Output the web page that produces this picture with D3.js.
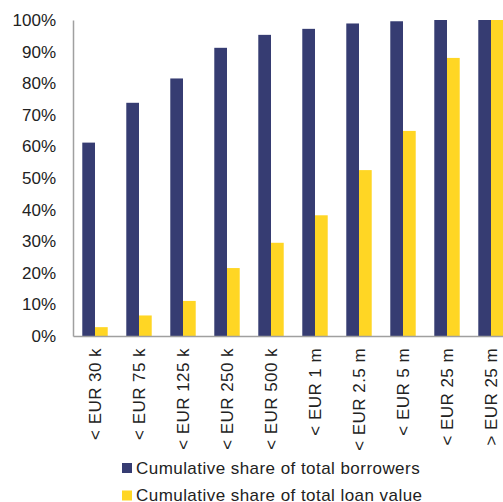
<!DOCTYPE html>
<html>
<head>
<meta charset="utf-8">
<script src="https://cdn.jsdelivr.net/npm/d3@7"></script>
<style>
    body { margin: 0; background: #fff; }
    svg { display: block; font-family: Arial, "Liberation Sans", sans-serif; }
</style>
</head>
<body>
<svg id="svg" width="503" height="502"></svg>
<script>
// loan size buckets
var categories = ["< EUR 30 k", "< EUR 75 k", "< EUR 125 k", "< EUR 250 k", "< EUR 500 k",
    "< EUR 1 m", "< EUR 2.5 m", "< EUR 5 m", "< EUR 25 m", "> EUR 25 m"];

// cumulative shares, in %
var borrowers = [61.2, 73.8, 81.5, 91.2, 95.3, 97.2, 98.9, 99.6, 100, 100];
var loanValue = [2.8, 6.5, 11.1, 21.5, 29.5, 38.2, 52.5, 64.9, 88.0, 100];

var seriesNames = ["Cumulative share of total borrowers", "Cumulative share of total loan value"];
var yTicks = [0, 10, 20, 30, 40, 50, 60, 70, 80, 90, 100];

var colors = ["#363c72", "#ffd624"];

var svg = d3.select("svg"),
    margin = {top: 20, left: 73},
    plotBottom = 336,
    plotRight = 513;

var x0 = d3.scaleBand()
    .domain(categories)
    .range([margin.left, plotRight])
    .padding(0);

var x1 = d3.scaleBand()
    .domain([0, 1])
    .range([0, x0.bandwidth()])
    .paddingInner(0)
    .paddingOuter(0.73);

var y = d3.scaleLinear()
    .domain([0, 100])
    .range([plotBottom, margin.top]);

var series = [borrowers, loanValue];

// bars
var groups = svg.append("g").selectAll("g")
    .data(categories)
    .enter().append("g")
    .attr("transform", function (d) { return "translate(" + x0(d) + ",0)"; });

groups.selectAll("rect")
    .data(function (d, i) { return series.map(function (s, k) { return {k: k, v: s[i]}; }); })
    .enter().append("rect")
    .attr("x", function (d) { return x1(d.k); })
    .attr("y", function (d) { return y(d.v); })
    .attr("width", x1.bandwidth())
    .attr("height", function (d) { return plotBottom - y(d.v); })
    .attr("fill", function (d) { return colors[d.k]; });

// y axis
var yAxis = svg.append("g")
    .attr("transform", "translate(" + margin.left + ",0)")
    .call(d3.axisLeft(y).tickValues(yTicks).tickSize(0).tickPadding(17)
        .tickFormat(function (d) { return d + "%"; }));
yAxis.select(".domain").attr("stroke", "#a0a0a0").attr("stroke-width", 1.5);
yAxis.selectAll("text")
    .attr("fill", "#222")
    .style("font-size", "17px");

// x axis
var xAxis = svg.append("g")
    .attr("transform", "translate(0," + plotBottom + ")")
    .call(d3.axisBottom(x0).tickSize(0).tickPadding(0));
xAxis.select(".domain").attr("stroke", "#a0a0a0").attr("stroke-width", 1.5);
xAxis.selectAll("text")
    .attr("fill", "#222")
    .style("font-size", "17px")
    .style("letter-spacing", "0.45px")
    .attr("text-anchor", "end")
    .attr("transform", "rotate(-90)")
    .attr("x", -12)
    .attr("y", 0)
    .attr("dy", "0.35em");

// legend
var legend = svg.append("g").selectAll("g")
    .data(seriesNames)
    .enter().append("g")
    .attr("transform", function (d, i) { return "translate(122," + (463 + i * 27.5) + ")"; });

legend.append("rect")
    .attr("width", 10)
    .attr("height", 10)
    .attr("fill", function (d, i) { return colors[i]; });

legend.append("text")
    .attr("x", 14)
    .attr("y", 10.5)
    .attr("fill", "#222")
    .style("font-size", "17px")
    .style("letter-spacing", "0.45px")
    .text(function (d) { return d; });
</script>
</body>
</html>
